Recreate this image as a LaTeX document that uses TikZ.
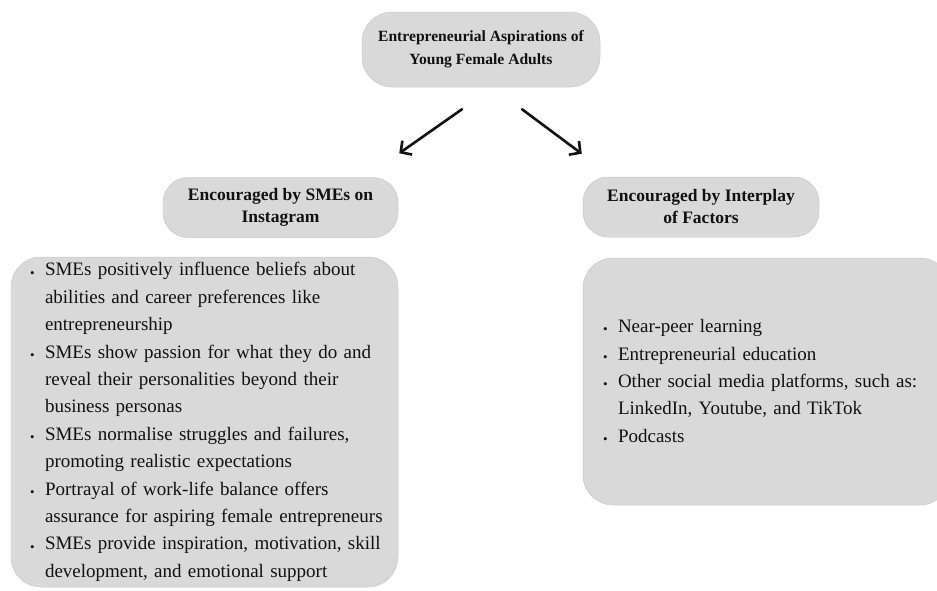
\documentclass[tikz,border=0pt]{standalone}
\usepackage{fontspec}
\setmainfont{Liberation Serif}
\usepackage{tikz}
\usetikzlibrary{arrows.meta,positioning,calc}
\definecolor{EAFill}{HTML}{D9D9D9}
\definecolor{EAEdge}{HTML}{C9C9C9}
\definecolor{EAInk}{HTML}{111111}
\newcommand{\eabul}[1]{\mbox{\makebox[15pt][l]{\raisebox{-1.2pt}{\fontsize{13}{13}\selectfont\textbullet}}#1}}
\newcommand{\eaind}[1]{\mbox{\hspace*{15pt}#1}}
\tikzset{
  pill/.style={draw=EAEdge,line width=0.5pt,fill=EAFill,rounded corners=25pt,
               text=EAInk,inner sep=0pt,align=center,
               font=\fontsize{17.5}{22}\selectfont\bfseries},
  pilltop/.style={pill,rounded corners=30pt,font=\fontsize{15.6}{23}\selectfont\bfseries},
  listbox/.style={draw=EAEdge,line width=0.5pt,fill=EAFill,rounded corners=30pt,
                  text=EAInk,inner xsep=19pt,inner ysep=0pt,align=left,
                  font=\fontsize{19}{27.4}\selectfont},
  pointer/.style={-{Straight Barb[length=8pt,width=17pt]},line width=2.6pt,
                  line cap=round,EAInk},
}
\begin{document}
\begin{tikzpicture}[x=1pt,y=-1pt]
  \clip (0,0) rectangle (937,590);
  \useasboundingbox (0,0) rectangle (937,590);

  \node[pilltop,minimum width=238pt,minimum height=75pt] (aspire) at (481,49.5)
    {Entrepreneurial Aspirations of\\Young Female Adults};

  \node[pill,minimum width=235pt,minimum height=60pt] (smes) at (280.5,207.5)
    {Encouraged by SMEs on\\Instagram};
  \node[pill,minimum width=236pt,minimum height=60pt] (interplay) at (701,207)
    {Encouraged by Interplay\\of Factors};

  \coordinate (aspireL) at ([shift={(-19,22)}]aspire.south);
  \coordinate (aspireR) at ([shift={(41,22)}]aspire.south);
  \coordinate (smesIn) at ([shift={(1,-24)}]smes.north east);
  \coordinate (interIn) at ([shift={(-1,-23)}]interplay.north west);
  \draw[pointer] (aspireL) -- (smesIn);
  \draw[pointer] (aspireR) -- (interIn);

  \node[listbox,text width=349pt,minimum width=387pt,minimum height=330pt] (smeslist) at (204.5,422)
    {\eabul{SMEs positively influence beliefs about}\\
     \eaind{abilities and career preferences like}\\
     \eaind{entrepreneurship}\\
     \eabul{SMEs show passion for what they do and}\\
     \eaind{reveal their personalities beyond their}\\
     \eaind{business personas}\\
     \eabul{SMEs normalise struggles and failures,}\\
     \eaind{promoting realistic expectations}\\
     \eabul{Portrayal of work-life balance offers}\\
     \eaind{assurance for aspiring female entrepreneurs}\\
     \eabul{SMEs provide inspiration, motivation, skill}\\
     \eaind{development, and emotional support}};

  \node[listbox,text width=327pt,minimum width=367pt,minimum height=247pt] (interlist) at (766.5,381.5)
    {\eabul{Near-peer learning}\\
     \eabul{Entrepreneurial education}\\
     \eabul{Other social media platforms, such as:}\\
     \eaind{LinkedIn, Youtube, and TikTok}\\
     \eabul{Podcasts}};
\end{tikzpicture}
\end{document}
